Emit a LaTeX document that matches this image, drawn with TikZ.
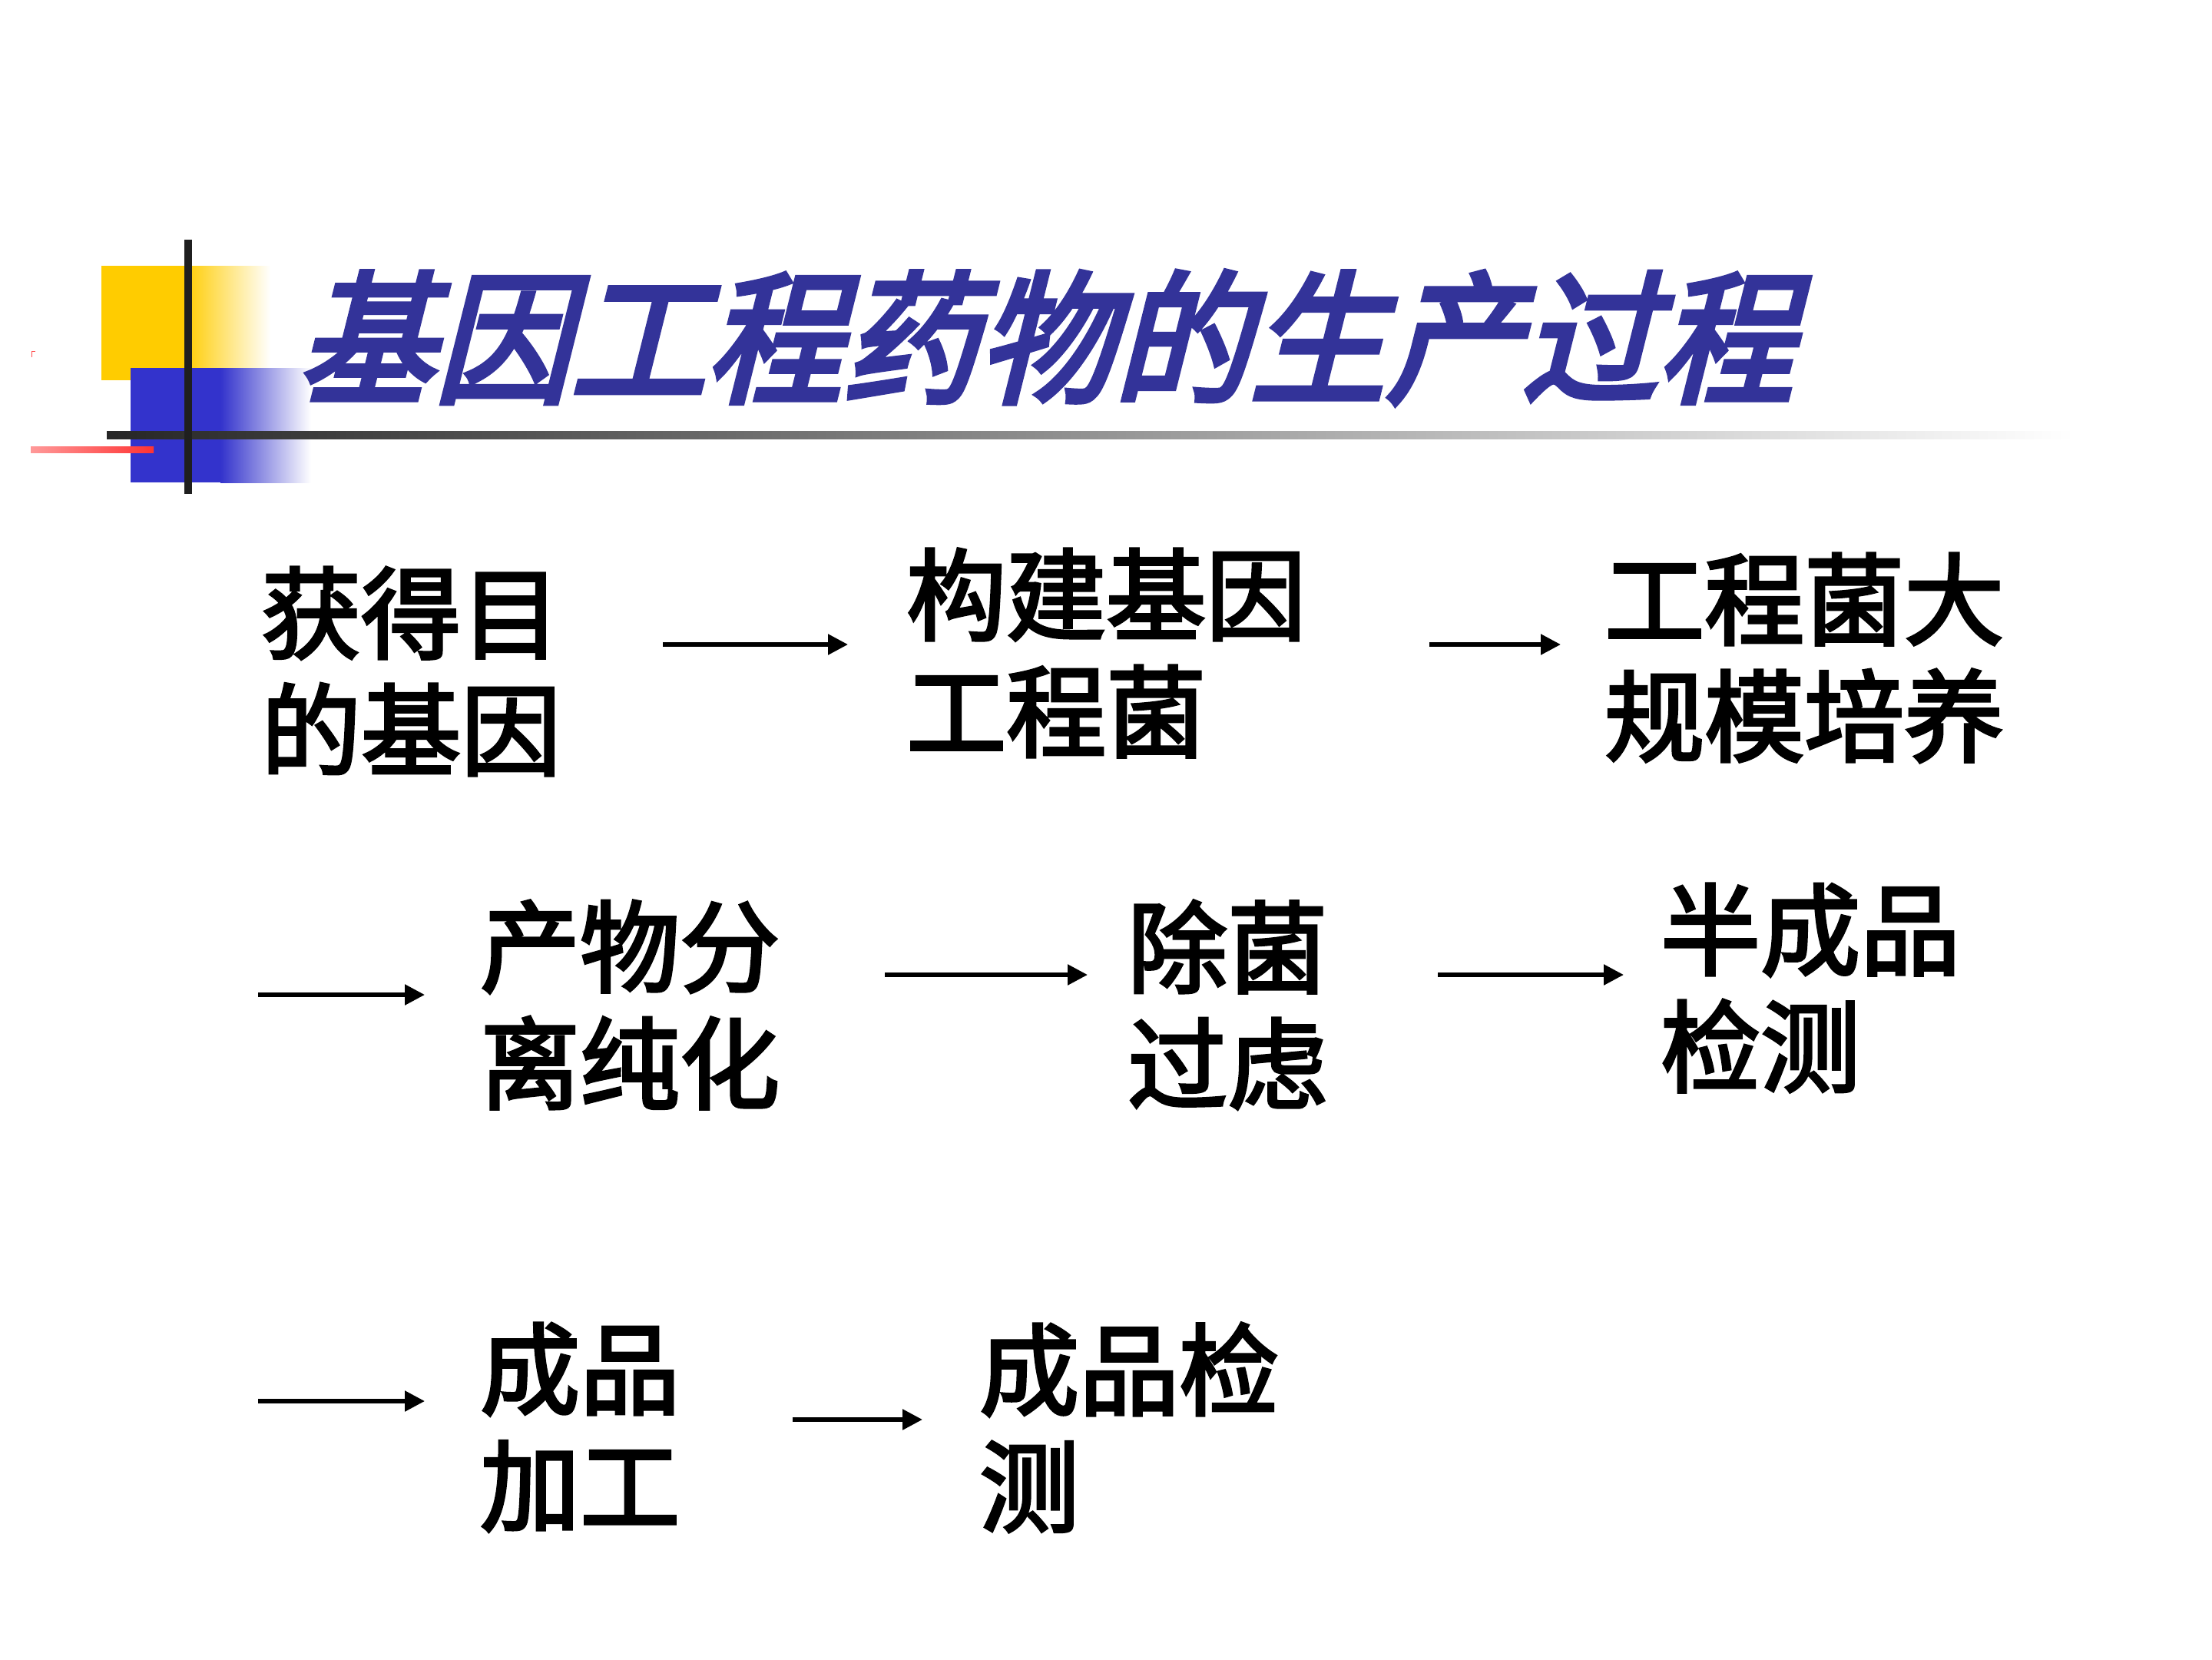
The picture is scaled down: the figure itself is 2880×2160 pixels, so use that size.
\documentclass[tikz,border=0pt]{standalone}
\usepackage{fontspec}
\newfontfamily\cjk[FakeBold=3]{Noto Sans CJK SC}
\newfontfamily\cjktitle[FakeBold=4]{Noto Sans CJK SC}
\usetikzlibrary{arrows.meta}
\definecolor{titleblue}{HTML}{333399}
\definecolor{logoyellow}{HTML}{FFCC00}
\definecolor{logoblue}{HTML}{3333CC}
\tikzset{
  stepbox/.style={anchor=north west, inner sep=0pt, align=left, text=black,
    font=\cjk\fontsize{130}{152}\selectfont},
  flow/.style={line width=5.5pt, -{Triangle[length=26pt,width=26pt]}},
}
\begin{document}
\begin{tikzpicture}[x=1pt,y=-1pt]
\useasboundingbox (0,0) rectangle (2880,2160);
\fill[white] (0,0) rectangle (2880,2160);
% logo
\fill[logoyellow] (132,346) rectangle (241,495);
\shade[left color=logoyellow, right color=white] (240,346) rectangle (352,495);
\fill[logoblue] (170,479) rectangle (288,628);
\shade[left color=logoblue, right color=white] (287,479) rectangle (405,628);
\shade[left color=red!40, right color=red!80] (40,581) rectangle (200,589);
\draw[red!70, line width=1pt] (41,465) -- (41,457) -- (46,457);
\shade[left color=black!85, right color=white] (139,561) rectangle (2700,571);
\fill[black!88] (240,312) rectangle (250,643);
% title
\node[anchor=base west, inner sep=0pt, text=titleblue, xslant=0.25, yscale=1.05, transform shape,
  font=\cjktitle\fontsize{177}{200}\selectfont] (title) at (388,510) {基因工程药物的生产过程};
% steps
\node[stepbox] (a) at (340,738) {获得目\\的基因};
\node[stepbox] (b) at (1180,714) {构建基因\\工程菌};
\node[stepbox] (c) at (2089,720) {工程菌大\\规模培养};
\node[stepbox] (d) at (625,1172) {产物分\\离纯化};
\node[stepbox] (e) at (1468,1172) {除菌\\过虑};
\node[stepbox] (f) at (2162,1150) {半成品\\检测};
\node[stepbox] (g) at (625,1722) {成品\\加工};
\node[stepbox] (h) at (1275,1722) {成品检\\测};
% arrows
\coordinate (a1s) at (863,839);  \coordinate (a1e) at (1104,839);
\coordinate (a2s) at (1861,839); \coordinate (a2e) at (2032,839);
\coordinate (a3s) at (336,1295); \coordinate (a3e) at (553,1295);
\coordinate (a4s) at (1152,1269); \coordinate (a4e) at (1416,1269);
\coordinate (a5s) at (1872,1269); \coordinate (a5e) at (2114,1269);
\coordinate (a6s) at (336,1824); \coordinate (a6e) at (553,1824);
\coordinate (a7s) at (1032,1848); \coordinate (a7e) at (1201,1848);
\draw[flow] (a1s) -- (a1e);
\draw[flow] (a2s) -- (a2e);
\draw[flow] (a3s) -- (a3e);
\draw[flow] (a4s) -- (a4e);
\draw[flow] (a5s) -- (a5e);
\draw[flow] (a6s) -- (a6e);
\draw[flow] (a7s) -- (a7e);
\end{tikzpicture}
\end{document}
